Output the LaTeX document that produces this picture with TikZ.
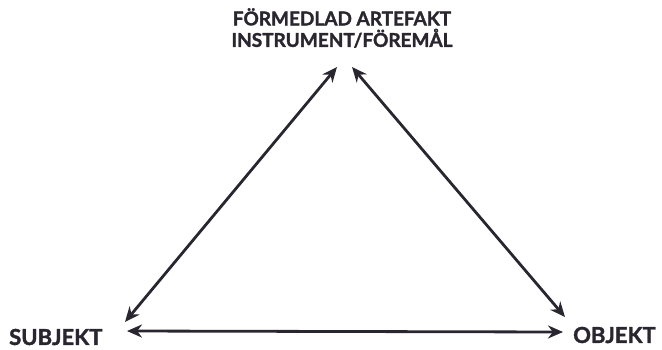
\documentclass[tikz,border=0pt]{standalone}
\usepackage{fontspec}
\setmainfont{Lato}[BoldFeatures={FakeBold=1.6}]
\usetikzlibrary{arrows.meta, positioning}
\definecolor{ink}{RGB}{42,38,48}

\begin{document}
\begin{tikzpicture}[x=1pt,y=-1pt,
    label/.style={font=\fontsize{19}{21.5}\selectfont\bfseries, text=ink, inner sep=0pt, align=center},
    biglabel/.style={label, font=\fontsize{22}{24}\selectfont\bfseries},
    link/.style={{Stealth[length=15pt,width=13pt]}-{Stealth[length=15pt,width=13pt]}, line width=2.8pt, draw=ink}]
    \useasboundingbox (0,0) rectangle (662,349);

    % labels
    \node[label] (artefakt) at (342,28) {FÖRMEDLAD ARTEFAKT\\INSTRUMENT/FÖREMÅL};
    \node[biglabel, anchor=west] (subjekt) at (9,337) {SUBJEKT};
    \node[biglabel, anchor=west] (objekt) at (573,335) {OBJEKT};

    % corners of the triangle
    \coordinate (topL) at (337,67);
    \coordinate (topR) at (352,67);
    \coordinate (subjUp) at (125,322);
    \coordinate (subjSide) at (127,331);
    \coordinate (objUp) at (565,317);
    \coordinate (objSide) at (563,332);

    % arrows
    \draw[link] (subjUp) -- (topL);
    \draw[link] (topR) -- (objUp);
    \draw[link] (subjSide) -- (objSide);
\end{tikzpicture}
\end{document}
